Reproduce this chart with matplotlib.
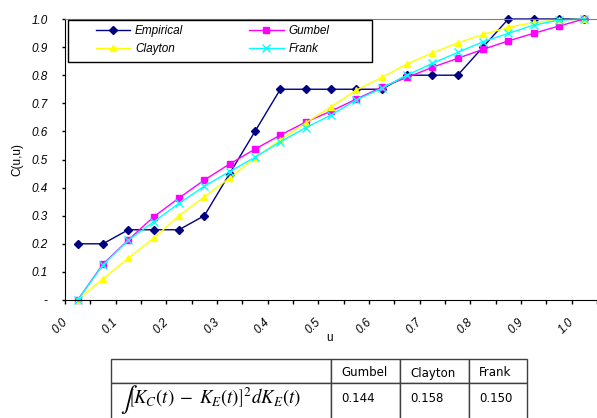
import matplotlib
matplotlib.use('Agg')
import matplotlib.pyplot as plt
import matplotlib.transforms as mtransforms
from matplotlib.patches import Rectangle
import numpy as np

# u = 0.00, 0.05, ..., 1.00 (category axis, labels every second point)
u_labels = ['0.0', '0.1', '0.2', '0.3', '0.4', '0.5', '0.6', '0.7', '0.8', '0.9', '1.0']
y_labels = ['-', '0.1', '0.2', '0.3', '0.4', '0.5', '0.6', '0.7', '0.8', '0.9', '1.0']

empirical = [0.20, 0.20, 0.25, 0.25, 0.25, 0.30, 0.45, 0.60, 0.75, 0.75, 0.75,
             0.75, 0.75, 0.80, 0.80, 0.80, 0.90, 1.00, 1.00, 1.00, 1.00]
gumbel = [0.0, 0.128, 0.214, 0.296, 0.363, 0.427, 0.484, 0.537, 0.587, 0.633, 0.672,
          0.715, 0.757, 0.792, 0.828, 0.860, 0.892, 0.922, 0.949, 0.975, 1.0]
clayton = [0.0, 0.075, 0.149, 0.220, 0.300, 0.367, 0.434, 0.505, 0.570, 0.630, 0.687,
           0.747, 0.792, 0.840, 0.879, 0.915, 0.945, 0.970, 0.988, 0.996, 1.0]
frank = [0.0, 0.125, 0.213, 0.278, 0.344, 0.405, 0.457, 0.508, 0.563, 0.613, 0.658,
         0.712, 0.753, 0.800, 0.842, 0.881, 0.919, 0.949, 0.978, 0.996, 1.0]

col_names = ['Gumbel', 'Clayton', 'Frank']
fit_values = ['0.144', '0.158', '0.150']

plt.rcParams['font.family'] = ['Liberation Sans', 'DejaVu Sans']

W, H = 597, 418
fig = plt.figure(figsize=(W / 100, H / 100), dpi=100)
ax = fig.add_axes([65 / W, 118 / H, 532 / W, 281 / H])

idx = np.arange(len(empirical))
l_emp, = ax.plot(idx, empirical, color='#000080', marker='D', ms=3.8, lw=1, label='Empirical', clip_on=False)
l_gum, = ax.plot(idx, gumbel, color='#FF00FF', marker='s', ms=3.8, lw=1, label='Gumbel', clip_on=False)
l_cla, = ax.plot(idx, clayton, color='#FFFF00', marker='^', ms=5, lw=1, label='Clayton', clip_on=False)
l_fra, = ax.plot(idx, frank, color='#00FFFF', marker='x', ms=6, mew=1, lw=1, label='Frank', clip_on=False)

ax.set_xlim(-0.5, len(idx) - 0.5)
ax.set_ylim(0, 1)

# tick marks between categories, labels on every second category
ax.set_xticks(np.arange(-0.5, len(idx)))
ax.set_xticks(idx[::2], minor=True)
ax.set_xticklabels(u_labels, minor=True)
ax.tick_params(axis='x', which='major', length=3, width=1, labelbottom=False)
ax.tick_params(axis='x', which='minor', length=0, pad=15, labelsize=8.5)
offset = mtransforms.ScaledTranslation(-12 / 100, 0, fig.dpi_scale_trans)
for lab in ax.get_xticklabels(minor=True):
    lab.set_rotation(45)
    lab.set_ha('right')
    lab.set_va('center')
    lab.set_rotation_mode('anchor')
    lab.set_fontstyle('italic')
    lab.set_transform(lab.get_transform() + offset)

ax.set_yticks(np.linspace(0, 1, 11))
ax.set_yticklabels(y_labels, fontstyle='italic')
ax.tick_params(axis='y', length=2.5, width=1, pad=10, labelsize=8.5)

ax.spines['top'].set_color('#808080')
ax.spines['right'].set_visible(False)

ax.set_ylabel('C(u,u)', fontsize=8.5)
ax.yaxis.set_label_coords(-0.079, 0.5)
ax.set_xlabel('u', fontsize=8.5)
ax.xaxis.set_label_coords(0.498, -0.114)

# legend box
box = Rectangle((68 / W, 1 - 62 / H), 304 / W, 42 / H, transform=fig.transFigure,
                facecolor='white', edgecolor='black', lw=1, zorder=4, clip_on=False)
ax.add_artist(box)
ax.legend([l_emp, l_cla, l_gum, l_fra], ['Empirical', 'Clayton', 'Gumbel', 'Frank'],
          ncol=2, loc='upper left', bbox_to_anchor=(96 / W, 1 - 25 / H),
          bbox_transform=fig.transFigure, frameon=False, borderpad=0, borderaxespad=0,
          handlelength=2.9, handletextpad=0.4, columnspacing=5.6, labelspacing=0.5,
          prop={'style': 'italic', 'size': 8.5})

# table under the chart
tab_ax = fig.add_axes([111 / W, 0, 416 / W, 59 / H])
tab_ax.axis('off')
formula = r'$\left[K_C(t)\;-\;K_E(t)\right]^2dK_E(t)$'
rows_h = [24, 36]
widths = [220, 69, 69, 58]
tab = tab_ax.table(cellText=[[''] + col_names, [formula] + fit_values],
                   colWidths=widths, cellLoc='left',
                   bbox=[0, (59 - sum(rows_h)) / 59, 1, sum(rows_h) / 59])
tab.auto_set_font_size(False)
tab.set_fontsize(8.5)
up = mtransforms.ScaledTranslation(0, 2 / 100, fig.dpi_scale_trans)
down = mtransforms.ScaledTranslation(0, -2 / 100, fig.dpi_scale_trans)
for (r, c), cell in tab.get_celld().items():
    cell.set_height(rows_h[r])
    cell.set_edgecolor('#404040')
    cell.set_linewidth(1)
    cell.PAD = 10 / widths[c]
    txt = cell.get_text()
    txt.set_fontfamily('DejaVu Sans')
    txt.set_transform(txt.get_transform() + (down if r == 0 else up))
f_cell = tab[1, 0]
f_cell.PAD = 17 / widths[0]
f_text = f_cell.get_text()
f_text.set_math_fontfamily('stix')
f_text.set_fontsize(13.5)
f_text.set_transform(f_text.get_transform() + up)
fig.text(120 / W, 1 - 399 / H, r'$\int$', math_fontfamily='stix', fontsize=18,
         ha='left', va='center')

fig.savefig('out.png', dpi=100)
